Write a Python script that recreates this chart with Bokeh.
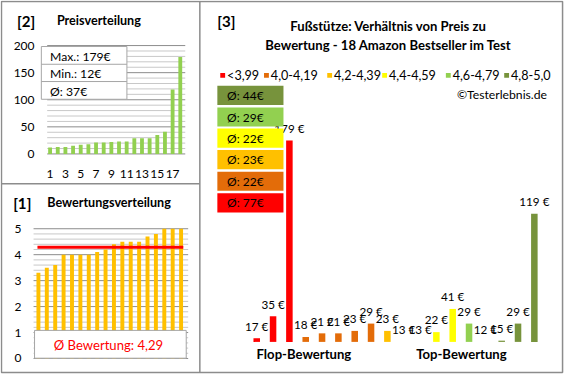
import numpy as np
from bokeh.plotting import figure
from bokeh.models import Range1d
from bokeh.core.properties import value
from bokeh.embed import file_html
from bokeh.resources import INLINE

# ---------------- data ----------------
PRICE_SORTED = [12, 13, 13, 15, 17, 18, 21, 21, 22, 23, 23, 29, 29, 29, 35, 41, 119, 179]
PRICE_YTICKS = [0, 50, 100, 150, 200]
PRICE_XTICKS = [1, 3, 5, 7, 9, 11, 13, 15, 17]
PRICE_STATS = ["Max.: 179€", "Min.: 12€", "Ø: 37€"]

RATING_SORTED = [3.3, 3.5, 3.6, 4.0, 4.0, 4.0, 4.0, 4.1, 4.2, 4.4, 4.5, 4.5, 4.5, 4.7, 4.8, 5.0, 5.0, 5.0]
RATING_YTICKS = [0, 1, 2, 3, 4, 5]
RATING_AVG = 4.29
RATING_AVG_TEXT = "Ø Bewertung: 4,29"

CATEGORIES = ["<3,99", "4,0-4,19", "4,2-4,39", "4,4-4,59", "4,6-4,79", "4,8-5,0"]
CATEGORY_AVG = ["Ø: 77€", "Ø: 22€", "Ø: 23€", "Ø: 22€", "Ø: 29€", "Ø: 44€"]
RATIO_PRICES = [17, 35, 179, 18, 21, 21, 23, 29, 23, 13, 13, 22, 41, 29, 12, 15, 29, 119]
RATIO_CATEGORY = [0, 0, 0, 1, 1, 1, 1, 1, 2, 3, 3, 3, 3, 4, 5, 5, 5, 5]
RATIO_AXIS_MIN = 14
GROUP_LABELS = ["Flop-Bewertung", "Top-Bewertung"]

TITLE_3 = ["Fußstütze: Verhältnis von Preis zu", "Bewertung - 18 Amazon Bestseller im Test"]

# ---------------- styles ----------------
CAT_COLORS = ["#ff0000", "#e36c09", "#ffc000", "#ffff00", "#92d050", "#77933c"]
FONT = value("Lato")
BORDER = "#8c8c8c"
GRID_MINOR = "#c8c8c8"
GRID_MAJOR = "#8c8c8c"
BOX_LINE = "#a6a6a6"

W, H = 564, 374
REF_W, REF_H = 580, 390
S = W / REF_W


def fs(px):
    return value(f"{px * S:.1f}px")


def xrange_from(d_a, p_a, d_b, p_b):
    s = (d_b - d_a) / (p_b - p_a)
    return Range1d(d_a - p_a * s, d_a + (REF_W - p_a) * s)


def yrange_from(d_a, p_a, d_b, p_b):
    s = (d_b - d_a) / (p_a - p_b)
    return Range1d(d_a - (REF_H - p_a) * s, d_a + p_a * s)


p = figure(width=W, height=H, x_range=Range1d(0, REF_W), y_range=Range1d(REF_H, 0),
           output_backend="svg", toolbar_location=None, min_border=0,
           x_axis_type=None, y_axis_type=None, outline_line_color=None)
p.background_fill_color = "white"
p.border_fill_color = "white"
for g in p.grid:
    g.visible = False

p.extra_x_ranges = {
    "px": xrange_from(1, 51, 17, 177),
    "rx": xrange_from(1, 39, 18, 185.7),
    "qx": xrange_from(0, 263.5, 17, 549),
}
p.extra_y_ranges = {
    "py": yrange_from(0, 160, 200, 47),
    "ry": yrange_from(0, 373.3, 5, 238),
    "qy": yrange_from(RATIO_AXIS_MIN, 356, 179, 146),
}


def txt(x, y, t, size, bold=False, align="left", color="#000000", xr="default", yr="default", yoff=0):
    p.text(x=x, y=y, text=t, text_font=FONT, text_font_size=fs(size),
           text_font_style="bold" if bold else "normal", text_align=align,
           text_baseline="middle", text_color=color, x_range_name=xr, y_range_name=yr,
           y_offset=yoff)


# ---------------- panel [2] Preisverteilung ----------------
pgrid = list(range(0, 201, 10))
p.segment(x0=48, x1=190, y0=pgrid, y1=pgrid, y_range_name="py",
          line_color=[GRID_MAJOR if v % 50 == 0 else GRID_MINOR for v in pgrid], line_width=1)
p.vbar(x=list(range(1, len(PRICE_SORTED) + 1)), top=PRICE_SORTED, bottom=0, width=0.5,
       x_range_name="px", y_range_name="py", fill_color="#92d050", line_color=None)
txt([35] * len(PRICE_YTICKS), PRICE_YTICKS, [str(t) for t in PRICE_YTICKS], 12.3, align="right", yr="py")
txt(PRICE_XTICKS, [181] * len(PRICE_XTICKS), [str(t) for t in PRICE_XTICKS], 12.3, align="center", xr="px")
p.quad(left=42, right=130, top=48, bottom=103, fill_color="white", line_color=BOX_LINE, line_width=1)
p.segment(x0=42, x1=130, y0=[66.5, 84.5], y1=[66.5, 84.5], line_color=BOX_LINE, line_width=1)
txt([51] * 3, [58, 76, 94.5], PRICE_STATS, 12.5)
txt([17], [21], ["[2]"], 15.5, bold=True)
txt([58], [21], ["Preisverteilung"], 13, bold=True)

# ---------------- panel [1] Bewertungsverteilung ----------------
rgrid = [round(v, 1) for v in np.arange(0, 5.01, 0.2)]
p.segment(x0=34, x1=193, y0=rgrid, y1=rgrid, y_range_name="ry",
          line_color=[GRID_MAJOR if abs(v - round(v)) < 1e-6 else GRID_MINOR for v in rgrid], line_width=1)
p.vbar(x=list(range(1, len(RATING_SORTED) + 1)), top=RATING_SORTED, bottom=0, width=0.47,
       x_range_name="rx", y_range_name="ry", fill_color="#ffc000", line_color=None)
p.segment(x0=38, x1=188, y0=RATING_AVG, y1=RATING_AVG, y_range_name="ry",
          line_color="#ff0000", line_width=3)
txt([21.5] * len(RATING_YTICKS), RATING_YTICKS, [str(t) for t in RATING_YTICKS], 12.3, align="right", yr="ry")
p.quad(left=35, right=191, top=344, bottom=373, fill_color="white", line_color=BOX_LINE, line_width=1)
txt([111], [359], [RATING_AVG_TEXT], 13.5, align="center", color="#ff0000")
txt([13], [211], ["[1]"], 15.5, bold=True)
txt([48], [211], ["Bewertungsverteilung"], 13, bold=True)

# ---------------- panel [3] Preis / Bewertung ----------------
ratio_top = np.maximum(RATIO_PRICES, RATIO_AXIS_MIN)
slots = list(range(len(RATIO_PRICES)))
p.vbar(x=slots, top=ratio_top, bottom=RATIO_AXIS_MIN, width=0.4,
       x_range_name="qx", y_range_name="qy",
       fill_color=[CAT_COLORS[c] for c in RATIO_CATEGORY], line_color=None)
txt(slots, list(ratio_top), [f"{v} €" for v in RATIO_PRICES], 12, align="center",
    xr="qx", yr="qy", yoff=-13 * S)

box_tops = [89, 111.5, 133.5, 156, 178.5, 201]
order = list(range(len(CATEGORIES)))[::-1]
p.quad(left=223, right=291, top=box_tops, bottom=[t + 20 for t in box_tops],
       fill_color=[CAT_COLORS[c] for c in order], line_color=None)
txt([233] * 6, [t + 10 for t in box_tops], [CATEGORY_AVG[c] for c in order], 12.3)

leg_sq = [228.5, 273.5, 338.5, 395, 460.5, 520.5]
p.rect(x=leg_sq, y=[78] * 6, width=5, height=5, fill_color=CAT_COLORS, line_color=None)
txt([x + 4.5 for x in leg_sq], [78] * 6, CATEGORIES, 13)
txt([562], [98], ["©Testerlebnis.de"], 12.5, align="right")

txt([223], [21], ["[3]"], 15.5, bold=True)
txt([399, 399], [27, 46], TITLE_3, 13.5, bold=True, align="center")
txt([312, 474], [369, 369], GROUP_LABELS, 13.5, bold=True, align="center")

# ---------------- panel borders ----------------
p.quad(left=1, right=578, top=1, bottom=388, fill_color=None, line_color=BORDER, line_width=1.5)
p.segment(x0=[205, 1], x1=[205, 205], y0=[1, 191], y1=[388, 191], line_color=BORDER, line_width=1.5)

open("out.html", "w").write(file_html(p, INLINE, title="Fußstütze"))
